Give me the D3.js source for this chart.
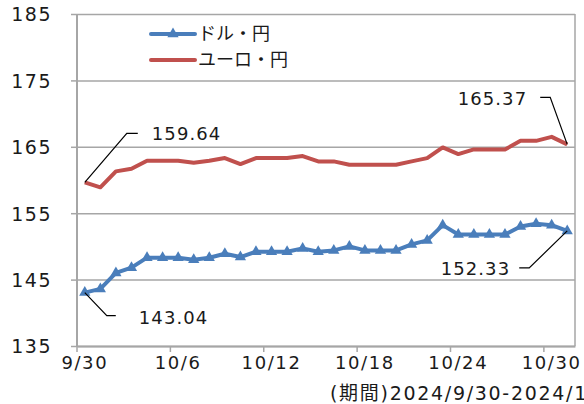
<!DOCTYPE html>
<html>
<head>
<meta charset="utf-8">
<script src="https://cdn.jsdelivr.net/npm/d3@7"></script>
<style>
  html, body { margin: 0; padding: 0; background: #fff; }
  svg text { font-family: "DejaVu Sans", "Noto Sans CJK JP", sans-serif; fill: #1a1a1a; }
</style>
</head>
<body>
<svg id="chart" width="584" height="404"></svg>
<script>
// Daily rates, 2024/9/30 - 2024/10/31
const dates = ["9/30","10/1","10/2","10/3","10/4","10/5","10/6","10/7","10/8","10/9","10/10",
  "10/11","10/12","10/13","10/14","10/15","10/16","10/17","10/18","10/19","10/20","10/21",
  "10/22","10/23","10/24","10/25","10/26","10/27","10/28","10/29","10/30","10/31"];
const usdJpy = [143.04,143.6,146.0,146.8,148.3,148.3,148.3,148.0,148.3,148.9,148.4,
  149.2,149.2,149.2,149.7,149.2,149.4,150.0,149.4,149.4,149.4,150.3,
  150.9,153.2,151.8,151.8,151.8,151.8,153.0,153.4,153.2,152.33];
const eurJpy = [159.64,158.9,161.3,161.7,162.9,162.9,162.9,162.6,162.9,163.3,162.4,
  163.3,163.3,163.3,163.6,162.8,162.8,162.3,162.3,162.3,162.3,162.8,
  163.3,164.9,163.9,164.6,164.6,164.6,165.9,165.9,166.5,165.37];
const seriesNames = ["ドル・円", "ユーロ・円"];
const xTickLabels = ["9/30","10/6","10/12","10/18","10/24","10/30"];
const yTicks = [135,145,155,165,175,185];
const periodText = "(期間)2024/9/30-2024/10/31";

const blue = "#4a7ebb", red = "#c0504d", grid = "#a6a6a6";
const plotLeft = 77, plotRight = 575, plotTop = 14, plotBottom = 346;

const svg = d3.select("#chart");
const x = d3.scaleBand().domain(dates).range([plotLeft, plotRight]).padding(0);
const y = d3.scaleLinear().domain([135, 185]).range([plotBottom, plotTop]);
const cx = d => x(d) + x.bandwidth() / 2;

// horizontal gridlines with outward ticks
const yAxis = svg.append("g").attr("transform", `translate(${plotLeft},0)`)
  .call(d3.axisLeft(y).tickValues(yTicks).tickSize(6).tickFormat(d3.format("d")));
yAxis.select(".domain").remove();
yAxis.selectAll(".tick line").attr("stroke", grid).attr("stroke-width", 1.5)
  .attr("x2", -6).attr("x1", 0);
yAxis.selectAll(".tick").append("line")
  .attr("x1", 0).attr("x2", plotRight - plotLeft).attr("stroke", grid).attr("stroke-width", 1.5);
yAxis.selectAll(".tick text").attr("x", -25).attr("dy", "0.36em")
  .style("font-size", "19px").style("letter-spacing", "1.5px").attr("text-anchor", "end");

// frame: left axis and right edge
svg.append("line").attr("x1", plotLeft).attr("x2", plotLeft).attr("y1", plotTop).attr("y2", plotBottom)
  .attr("stroke", grid).attr("stroke-width", 2);
svg.append("line").attr("x1", plotRight).attr("x2", plotRight).attr("y1", plotTop).attr("y2", plotBottom)
  .attr("stroke", grid).attr("stroke-width", 1.5);

// bottom axis: ticks at category boundaries, labels under category centres
const xAxis = svg.append("g").attr("transform", `translate(0,${plotBottom})`)
  .call(d3.axisBottom(x).tickValues(xTickLabels).tickSize(0).tickPadding(10));
xAxis.select(".domain").attr("stroke", grid).attr("stroke-width", 2);
xAxis.selectAll(".tick text").style("font-size", "18px").style("letter-spacing", "1.6px")
  .attr("dy", "0.71em");
xAxis.selectAll(".tick").append("line")
  .attr("x1", -x.bandwidth() / 2).attr("x2", -x.bandwidth() / 2)
  .attr("y1", 0).attr("y2", 6).attr("stroke", grid).attr("stroke-width", 1.5);

svg.append("text").attr("x", 330).attr("y", 393).attr("dy", "0.36em")
  .style("font-size", "19px").style("letter-spacing", "1.7px").text(periodText);

// series
const line = d3.line().x((v, i) => cx(dates[i])).y(v => y(v));
svg.append("path").datum(eurJpy).attr("d", line).attr("fill", "none")
  .attr("stroke", red).attr("stroke-width", 4).attr("stroke-linejoin", "round");
svg.append("path").datum(usdJpy).attr("d", line).attr("fill", "none")
  .attr("stroke", blue).attr("stroke-width", 4).attr("stroke-linejoin", "round");
const tri = d3.symbol().type(d3.symbolTriangle).size(55);
svg.append("g").selectAll("path").data(usdJpy).join("path")
  .attr("d", tri).attr("fill", blue)
  .attr("transform", (v, i) => `translate(${cx(dates[i])},${y(v)})`);

// value callouts
function callout(i, v, elbow, hEnd, textDx, textDy, anchor) {
  const px = cx(dates[i]), py = y(v);
  svg.append("path")
    .attr("d", `M${px},${py}L${px + elbow[0]},${py + elbow[1]}L${px + hEnd},${py + elbow[1]}`)
    .attr("fill", "none").attr("stroke", "#000").attr("stroke-width", 1.2);
  svg.append("text").attr("x", px + textDx).attr("y", py + textDy).attr("dy", "0.36em")
    .attr("text-anchor", anchor).style("font-size", "18px").style("letter-spacing", "1.1px")
    .text(d3.format(".2f")(v));
}
const n = dates.length - 1;
callout(0, eurJpy[0], [42, -49], 53, 67, -49, "start");
callout(n, eurJpy[n], [-17, -47], -27, -40, -46, "end");
callout(n, usdJpy[n], [-38, 37], -48, -57, 38, "end");
callout(0, usdJpy[0], [22, 23], 31, 54, 25, "start");

// legend
const legend = svg.append("g");
const lg = [[seriesNames[0], blue, 34], [seriesNames[1], red, 60]];
lg.forEach(([name, color, ly], k) => {
  legend.append("line").attr("x1", 151).attr("x2", 195).attr("y1", ly).attr("y2", ly)
    .attr("stroke", color).attr("stroke-width", 4).attr("stroke-linecap", "round");
  if (k === 0) legend.append("path").attr("d", tri)
    .attr("transform", `translate(173,${ly})`).attr("fill", color);
  legend.append("text").attr("x", 198).attr("y", ly).attr("dy", "0.36em")
    .style("font-size", "18px").text(name);
});
</script>
</body>
</html>
